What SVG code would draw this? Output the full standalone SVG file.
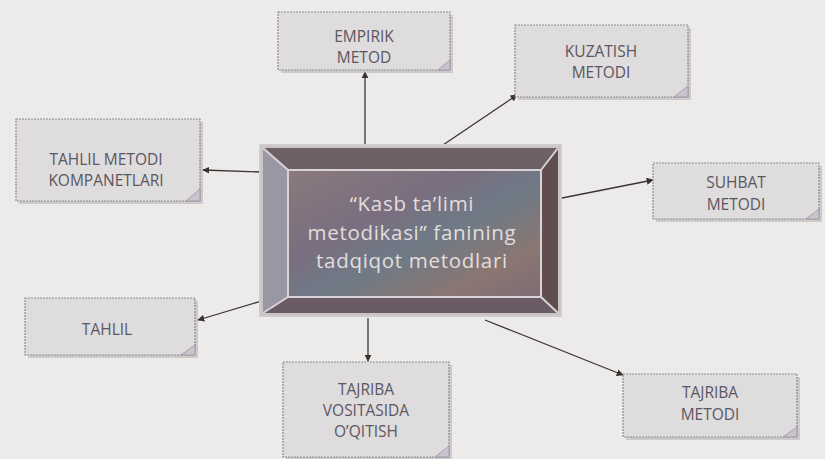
<svg xmlns="http://www.w3.org/2000/svg" width="825" height="459" viewBox="0 0 825 459">
<defs>
<style>
.nb{fill:#dedcdc;stroke:#8f8b90;stroke-width:1.2;stroke-dasharray:2 1}
.sh{fill:#b8b4b6;opacity:0.6}
.curl{fill:#c9c3cc;stroke:#9a90a6;stroke-width:0.8}
.t{font-family:"Open Sans","Liberation Sans",sans-serif;font-size:15.5px;fill:#5b5662;text-anchor:middle}
.ct{font-family:"Open Sans","Liberation Sans",sans-serif;font-size:20.5px;letter-spacing:0.7px;fill:#e2dedc;text-anchor:middle}
.c{stroke:#3a3636;stroke-width:1.3;fill:none;marker-end:url(#ah)}
</style>
<marker id="ah" viewBox="0 0 10 10" refX="9" refY="5" markerWidth="7" markerHeight="7" orient="auto-start-reverse" markerUnits="userSpaceOnUse">
<path d="M0,0 L10,5 L0,10 z" fill="#3a3030"/>
</marker>
<linearGradient id="inner" x1="0" y1="0" x2="1" y2="1">
<stop offset="0" stop-color="#8a7a7c"/>
<stop offset="0.35" stop-color="#7a6e80"/>
<stop offset="0.55" stop-color="#6f7a86"/>
<stop offset="0.8" stop-color="#8a7672"/>
<stop offset="1" stop-color="#7d6c74"/>
</linearGradient>
</defs>
<rect width="825" height="459" fill="#ecebea"/>
<g id="connectors">
<line class="c" x1="365" y1="145" x2="365" y2="72"/>
<line class="c" x1="440" y1="147" x2="517" y2="95"/>
<line class="c" x1="262" y1="172" x2="203" y2="170"/>
<line class="c" x1="562" y1="198" x2="653" y2="180"/>
<line class="c" x1="265" y1="300" x2="198" y2="320"/>
<line class="c" x1="368" y1="318" x2="368" y2="361"/>
<line class="c" x1="485" y1="320" x2="623" y2="375"/>
</g>
<g id="center">
<rect x="260" y="145" width="301" height="171" fill="#c8c4c6"/>
<polygon points="263,148 558,148 541,170 288,170" fill="#6f6068"/>
<polygon points="263,148 288,170 288,297 263,313" fill="#9a97a4"/>
<polygon points="558,148 558,313 541,297 541,170" fill="#5f4d50"/>
<polygon points="263,313 288,297 541,297 558,313" fill="#6a5a64"/>
<rect x="288" y="170" width="253" height="127" fill="url(#inner)" stroke="#d8d4d4" stroke-width="2"/>
<path d="M263,148 L288,170 M558,148 L541,170 M263,313 L288,297 M558,313 L541,297" stroke="#d8d4d4" stroke-width="2"/>
<rect x="260" y="145" width="301" height="171" fill="none" stroke="#d0cccc" stroke-width="2"/>
<text class="ct" x="412" y="211">“Kasb ta’limi</text>
<text class="ct" x="412" y="239.5">metodikasi” fanining</text>
<text class="ct" x="412" y="268">tadqiqot metodlari</text>
</g>
<g id="n-empirik">
<rect class="sh" x="281" y="15" width="172" height="58"/>
<rect class="nb" x="278" y="12" width="172" height="58"/>
<path class="curl" d="M438,70 L450,60 L450,70 z"/>
<text class="t" x="364" y="42">EMPIRIK</text>
<text class="t" x="364" y="63">METOD</text>
</g>
<g id="n-kuzatish">
<rect class="sh" x="518" y="28" width="173" height="72"/>
<rect class="nb" x="515" y="25" width="173" height="72"/>
<path class="curl" d="M674,97 L688,86 L688,97 z"/>
<text class="t" x="601" y="57">KUZATISH</text>
<text class="t" x="601" y="78">METODI</text>
</g>
<g id="n-tahlil-metodi">
<rect class="sh" x="19" y="122" width="184" height="82"/>
<rect class="nb" x="16" y="119" width="184" height="82"/>
<path class="curl" d="M186,201 L200,189 L200,201 z"/>
<text class="t" x="106" y="165">TAHLIL METODI</text>
<text class="t" x="106" y="186">KOMPANETLARI</text>
</g>
<g id="n-suhbat">
<rect class="sh" x="656" y="166" width="166" height="56"/>
<rect class="nb" x="653" y="163" width="166" height="56"/>
<path class="curl" d="M806,219 L819,209 L819,219 z"/>
<text class="t" x="736" y="188">SUHBAT</text>
<text class="t" x="736" y="210">METODI</text>
</g>
<g id="n-tahlil">
<rect class="sh" x="28" y="301" width="170" height="57"/>
<rect class="nb" x="25" y="298" width="170" height="57"/>
<path class="curl" d="M181,355 L195,345 L195,355 z"/>
<text class="t" x="107" y="335">TAHLIL</text>
</g>
<g id="n-tajriba-vositasida">
<rect class="sh" x="286" y="365" width="166" height="95"/>
<rect class="nb" x="283" y="362" width="166" height="95"/>
<path class="curl" d="M435,457 L449,446 L449,457 z"/>
<text class="t" x="366" y="395">TAJRIBA</text>
<text class="t" x="366" y="416">VOSITASIDA</text>
<text class="t" x="366" y="437">O’QITISH</text>
</g>
<g id="n-tajriba-metodi">
<rect class="sh" x="626" y="377" width="174" height="63"/>
<rect class="nb" x="623" y="374" width="174" height="63"/>
<path class="curl" d="M783,437 L797,427 L797,437 z"/>
<text class="t" x="710" y="398">TAJRIBA</text>
<text class="t" x="710" y="420">METODI</text>
</g>
</svg>
